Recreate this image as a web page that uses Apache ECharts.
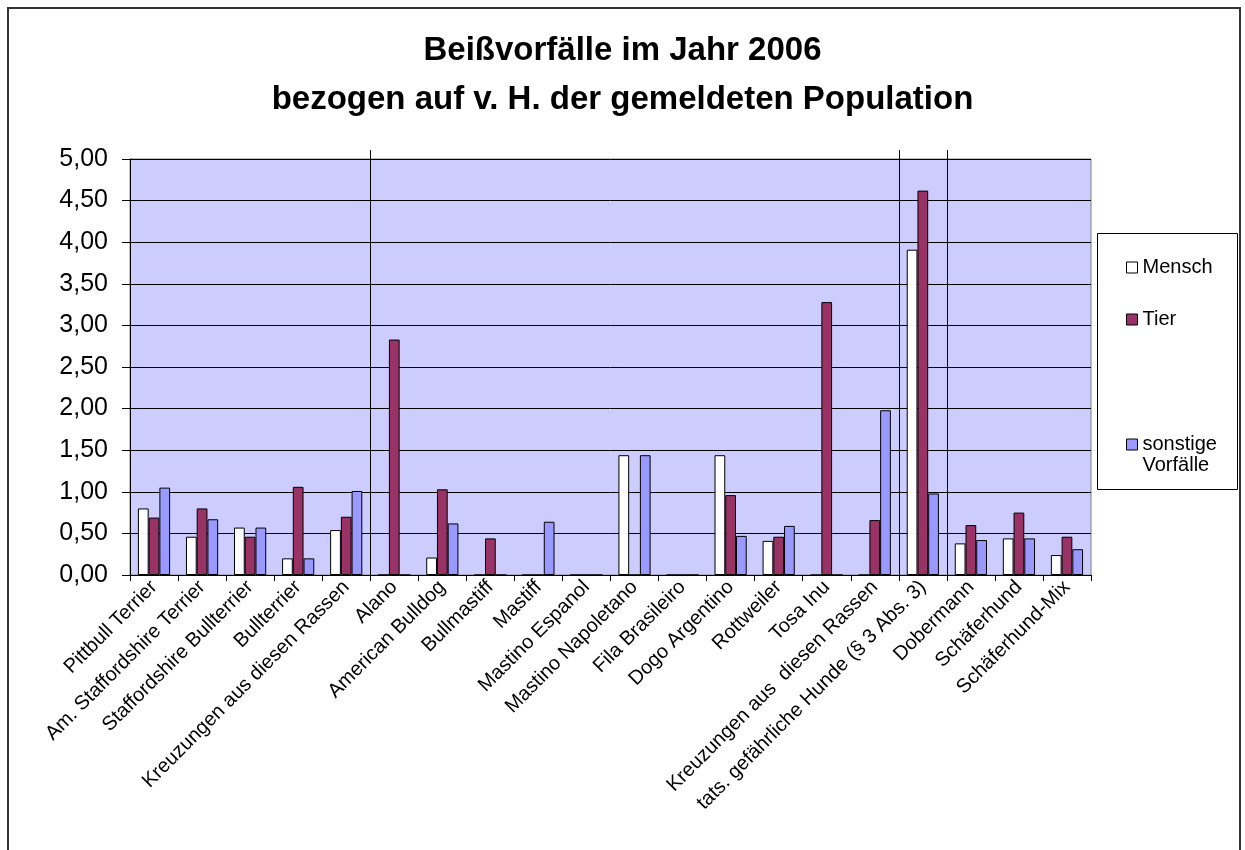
<!DOCTYPE html>
<html>
<head>
<meta charset="utf-8">
<script src="https://cdn.jsdelivr.net/npm/echarts@6/dist/echarts.min.js"></script>
<style>
html,body{margin:0;padding:0;background:#fff;}
#chart{width:1245px;height:850px;}
</style>
</head>
<body>
<div id="chart"></div>
<script>
var titleLines = ['Beißvorfälle im Jahr 2006', 'bezogen auf v. H. der gemeldeten Population'];
var categories = ['Pittbull Terrier', 'Am. Staffordshire Terrier', 'Staffordshire Bullterrier', 'Bullterrier',
  'Kreuzungen aus diesen Rassen', 'Alano', 'American Bulldog', 'Bullmastiff', 'Mastiff', 'Mastino Espanol',
  'Mastino Napoletano', 'Fila Brasileiro', 'Dogo Argentino', 'Rottweiler', 'Tosa Inu',
  'Kreuzungen aus  diesen Rassen', 'tats. gefährliche Hunde (§ 3 Abs. 3)', 'Dobermann', 'Schäferhund', 'Schäferhund-Mix'];
var seriesNames = ['Mensch', 'Tier', 'sonstige Vorfälle'];
var mensch = [0.80, 0.46, 0.57, 0.20, 0.54, 0, 0.21, 0, 0, 0, 1.44, 0, 1.44, 0.41, 0, 0, 3.91, 0.38, 0.44, 0.24];
var tier   = [0.69, 0.80, 0.46, 1.06, 0.70, 2.83, 1.03, 0.44, 0, 0, 0, 0, 0.96, 0.46, 3.28, 0.66, 4.62, 0.60, 0.75, 0.46];
var sonst  = [1.05, 0.67, 0.57, 0.20, 1.01, 0, 0.62, 0, 0.64, 0, 1.44, 0, 0.47, 0.59, 0, 1.98, 0.98, 0.42, 0.44, 0.31];
var yTicks = [0, 0.5, 1, 1.5, 2, 2.5, 3, 3.5, 4, 4.5, 5];
var groupBoundaries = [5, 16, 17];
var colors = ['#FFFFFF', '#993366', '#9999FF'];

var FONT = 'Liberation Sans, Arial, sans-serif';
var chart = echarts.init(document.getElementById('chart'));

function bar(name, data, color) {
  return {
    name: name, type: 'bar', data: data, barGap: '0%', barCategoryGap: '33%',
    itemStyle: { color: color, borderColor: '#000', borderWidth: 1 },
    emphasis: { disabled: true }, animation: false
  };
}

var legendCommon = {
  orient: 'vertical', left: 1121, itemWidth: 11, itemHeight: 11, itemGap: 10,
  icon: 'rect', selectedMode: false,
  textStyle: { fontFamily: FONT, fontSize: 20, color: '#000', lineHeight: 21 }
};

var option = {
  animation: false,
  backgroundColor: '#fff',
  title: {
    text: titleLines.join('\n'), left: 'center', top: 21,
    textStyle: { fontFamily: FONT, fontWeight: 'bold', fontSize: 33, lineHeight: 49, color: '#000' }
  },
  legend: [
    Object.assign({}, legendCommon, { top: 252, data: [{ name: seriesNames[0], itemStyle: { borderColor: '#000', borderWidth: 1 } }] }),
    Object.assign({}, legendCommon, { top: 304, data: [{ name: seriesNames[1], itemStyle: { borderColor: '#000', borderWidth: 1 } }] }),
    Object.assign({}, legendCommon, {
      top: 408, data: [{ name: seriesNames[2], itemStyle: { borderColor: '#000', borderWidth: 1 } }],
      formatter: function (n) { return ' \n' + n.replace(' ', '\n'); }
    })
  ],
  grid: { left: 130, top: 159, right: 154, bottom: 275, show: true, backgroundColor: '#CCCCFF', borderColor: '#808080', borderWidth: 1 },
  xAxis: [{
    type: 'category', data: categories, boundaryGap: true,
    axisLine: { lineStyle: { color: '#000', width: 1 } },
    axisTick: { show: true, interval: 0, length: 6, lineStyle: { color: '#000' } },
    axisLabel: { interval: 0, rotate: 45, fontFamily: FONT, fontSize: 20, color: '#000', margin: 9 },
    splitLine: { show: false }
  }, {
    type: 'value', min: 0, max: categories.length, show: false, position: 'bottom'
  }],
  yAxis: {
    type: 'value', min: yTicks[0], max: yTicks[yTicks.length - 1], interval: 0.5,
    axisLine: { show: true, lineStyle: { color: '#000' } },
    axisTick: { show: true, length: 8, lineStyle: { color: '#000' } },
    axisLabel: { fontFamily: FONT, fontSize: 25, color: '#000', margin: 22,
      formatter: function (v) { return v.toFixed(2).replace('.', ','); } },
    splitLine: { show: true, lineStyle: { color: '#000', width: 1 } }
  },
  series: [bar(seriesNames[0], mensch, colors[0]), bar(seriesNames[1], tier, colors[1]), bar(seriesNames[2], sonst, colors[2])]
};
chart.setOption(option);

var gfx = [
  { type: 'rect', shape: { x: 8, y: 8, width: 1232, height: 870 }, style: { fill: 'none', stroke: '#333', lineWidth: 2 }, silent: true, z: 100 },
  { type: 'rect', shape: { x: 1097.5, y: 233.5, width: 140, height: 256 }, style: { fill: 'none', stroke: '#000', lineWidth: 1 }, silent: true, z: 100 }
];
var yTop = chart.convertToPixel({ yAxisIndex: 0 }, yTicks[yTicks.length - 1]) - 9;
var yBot = chart.convertToPixel({ yAxisIndex: 0 }, 0);
groupBoundaries.forEach(function (b) {
  var x = Math.round(chart.convertToPixel({ xAxisIndex: 1 }, b)) + 0.5;
  gfx.push({ type: 'line', shape: { x1: x, y1: yTop, x2: x, y2: yBot }, style: { stroke: '#000', lineWidth: 1 }, silent: true, z: 100 });
});
chart.setOption({ graphic: gfx });
</script>
</body>
</html>
